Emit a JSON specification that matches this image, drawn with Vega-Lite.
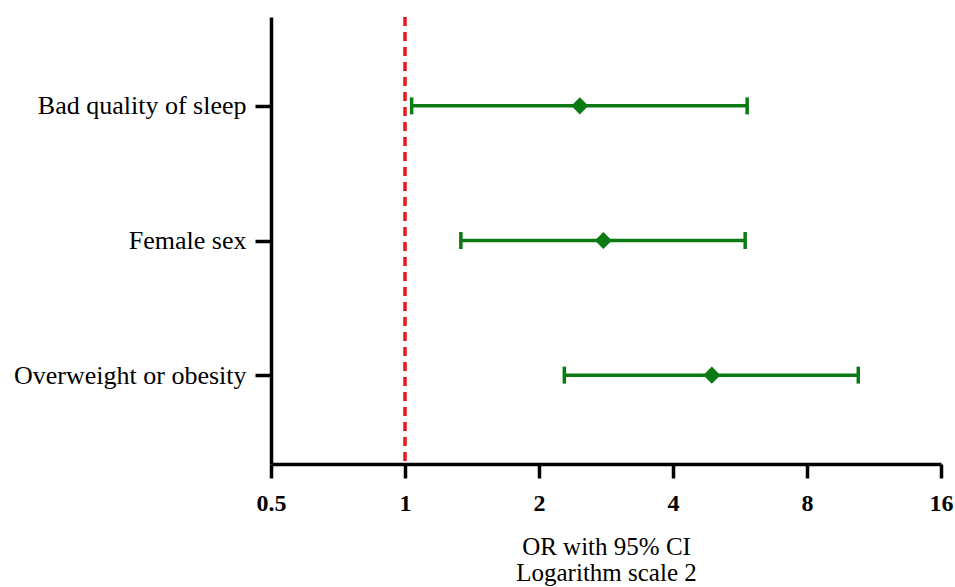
{
  "$schema": "https://vega.github.io/schema/vega-lite/v6.json",
  "autosize": "none",
  "width": 670,
  "height": 447,
  "padding": {"left": 271, "top": 17, "right": 14, "bottom": 123},
  "background": "white",
  "config": {"view": {"stroke": null}},
  "data": {"values": [
    {"factor": "Bad quality of sleep", "or": 2.47, "lo": 1.035, "hi": 5.87},
    {"factor": "Female sex", "or": 2.79, "lo": 1.335, "hi": 5.81},
    {"factor": "Overweight or obesity", "or": 4.89, "lo": 2.28, "hi": 10.43}
  ]},
  "encoding": {
    "y": {
      "field": "factor", "type": "nominal", "sort": null,
      "scale": {"type": "point", "padding": 0.66},
      "axis": {
        "title": null, "labelFont": "Liberation Serif", "labelFontSize": 26,
        "labelColor": "black", "labelPadding": 9, "labelLimit": 400, "tickSize": 16, "tickWidth": 3.5,
        "tickColor": "black", "domainWidth": 3.5, "domainColor": "black", "grid": false
      }
    }
  },
  "layer": [
    {
      "data": {"values": [{"ref": 1}]},
      "mark": {"type": "rule", "color": "#e8191c", "strokeWidth": 3.5, "strokeDash": [9, 6]},
      "encoding": {"x": {"field": "ref", "type": "quantitative"}, "y": null}
    },
    {
      "mark": {"type": "rule", "color": "#0b7a12", "strokeWidth": 3.5},
      "encoding": {
        "x": {
          "field": "lo", "type": "quantitative",
          "scale": {"type": "log", "base": 2, "domain": [0.5, 16], "nice": false},
          "axis": {
            "values": [0.5, 1, 2, 4, 8, 16], "format": "~g",
            "title": ["OR with 95% CI", "Logarithm scale 2"],
            "titleFont": "Liberation Serif", "titleFontSize": 25, "titleFontWeight": "normal",
            "titleColor": "black", "titlePadding": 19, "titleLineHeight": 26,
            "labelFont": "Liberation Serif", "labelFontSize": 24, "labelFontWeight": "bold",
            "labelColor": "black", "labelPadding": 13, "labelFlush": false,
            "tickSize": 14, "tickWidth": 3.5, "tickColor": "black",
            "domainWidth": 3.5, "domainColor": "black", "grid": false
          }
        },
        "x2": {"field": "hi"}
      }
    },
    {
      "mark": {"type": "tick", "color": "#0b7a12", "opacity": 1, "thickness": 3.5, "size": 17, "orient": "vertical"},
      "encoding": {"x": {"field": "lo", "type": "quantitative"}}
    },
    {
      "mark": {"type": "tick", "color": "#0b7a12", "opacity": 1, "thickness": 3.5, "size": 17, "orient": "vertical"},
      "encoding": {"x": {"field": "hi", "type": "quantitative"}}
    },
    {
      "mark": {"type": "point", "shape": "diamond", "filled": true, "color": "#0b7a12", "opacity": 1, "size": 290},
      "encoding": {"x": {"field": "or", "type": "quantitative"}}
    }
  ]
}
